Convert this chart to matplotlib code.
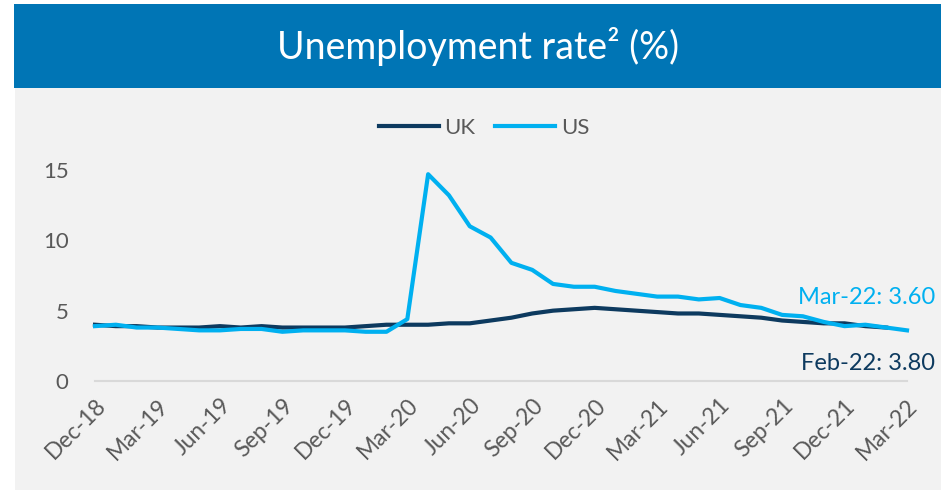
import matplotlib.pyplot as plt
from matplotlib.patches import Rectangle

# unemployment rate, monthly Dec-18 .. Mar-22
months = ["Dec-18","Jan-19","Feb-19","Mar-19","Apr-19","May-19","Jun-19","Jul-19","Aug-19","Sep-19",
          "Oct-19","Nov-19","Dec-19","Jan-20","Feb-20","Mar-20","Apr-20","May-20","Jun-20","Jul-20",
          "Aug-20","Sep-20","Oct-20","Nov-20","Dec-20","Jan-21","Feb-21","Mar-21","Apr-21","May-21",
          "Jun-21","Jul-21","Aug-21","Sep-21","Oct-21","Nov-21","Dec-21","Jan-22","Feb-22","Mar-22"]
uk = [4.0,3.9,3.9,3.8,3.8,3.8,3.9,3.8,3.9,3.8,3.8,3.8,3.8,3.9,4.0,4.0,4.0,4.1,4.1,4.3,
      4.5,4.8,5.0,5.1,5.2,5.1,5.0,4.9,4.8,4.8,4.7,4.6,4.5,4.3,4.2,4.1,4.1,3.9,3.8]
us = [3.9,4.0,3.8,3.8,3.7,3.6,3.6,3.7,3.7,3.5,3.6,3.6,3.6,3.5,3.5,4.4,14.7,13.2,11.0,10.2,
      8.4,7.9,6.9,6.7,6.7,6.4,6.2,6.0,6.0,5.8,5.9,5.4,5.2,4.7,4.6,4.2,3.9,4.0,3.8,3.6]
tick_every = 3
uk_label = "Feb-22: 3.80"
us_label = "Mar-22: 3.60"

UK_COL = "#0D3A5F"
US_COL = "#00B0F0"
TXT = "#595959"
plt.rcParams['font.family'] = ['Lato', 'DejaVu Sans']

W, H = 951, 490
fig = plt.figure(figsize=(W/100, H/100), dpi=100)
fig.patch.set_facecolor("white")

# background panels
fig.patches.append(Rectangle((15/W, 0), (941-15)/W, 1-88/H, transform=fig.transFigure,
                             facecolor="#F2F2F2", edgecolor="none", zorder=-2))
fig.patches.append(Rectangle((14/W, 1-88/H), (941-14)/W, (88-4)/H, transform=fig.transFigure,
                             facecolor="#0075B5", edgecolor="none", zorder=-1))
fig.text(478/W, 1-47/H, "Unemployment rate\u00b2 (%)", color="white", fontsize=27,
         ha="center", va="center")

ax = fig.add_axes([95/W, 1-381/H, (907-95)/W, (381-170)/H])
ax.set_facecolor("none")
x_uk = list(range(len(uk)))
x_us = list(range(len(us)))
ax.plot(x_uk, uk, color=UK_COL, lw=3, label="UK", clip_on=False, solid_joinstyle="round")
ax.plot(x_us, us, color=US_COL, lw=3, label="US", clip_on=False, solid_joinstyle="round")

ax.set_xlim(0, len(months)-1)
ax.set_ylim(0, 15)
ax.set_yticks([0, 5, 10, 15])
ax.set_xticks(range(0, len(months), tick_every))
ax.set_xticklabels(months[::tick_every], rotation=45, ha="right", va="top", rotation_mode="anchor")
ax.tick_params(axis="y", length=0, pad=19, labelsize=16, labelcolor=TXT)
ax.tick_params(axis="x", length=0, pad=10, labelsize=16.5, labelcolor=TXT)
for s in ["top", "right", "left"]:
    ax.spines[s].set_visible(False)
ax.spines["bottom"].set_color("#D9D9D9")
ax.spines["bottom"].set_linewidth(1.5)

leg = fig.legend(loc="center", bbox_to_anchor=(484/W, 1-128/H), ncol=2, frameon=False,
                 fontsize=16, handlelength=2.7, handletextpad=0.25, columnspacing=0.9)
for t in leg.get_texts():
    t.set_color(TXT)

fig.text(935/W, 1-297/H, us_label, color=US_COL, fontsize=17, ha="right", va="center")
fig.text(935/W, 1-363/H, uk_label, color=UK_COL, fontsize=17, ha="right", va="center")

fig.savefig("out.png", dpi=100)
